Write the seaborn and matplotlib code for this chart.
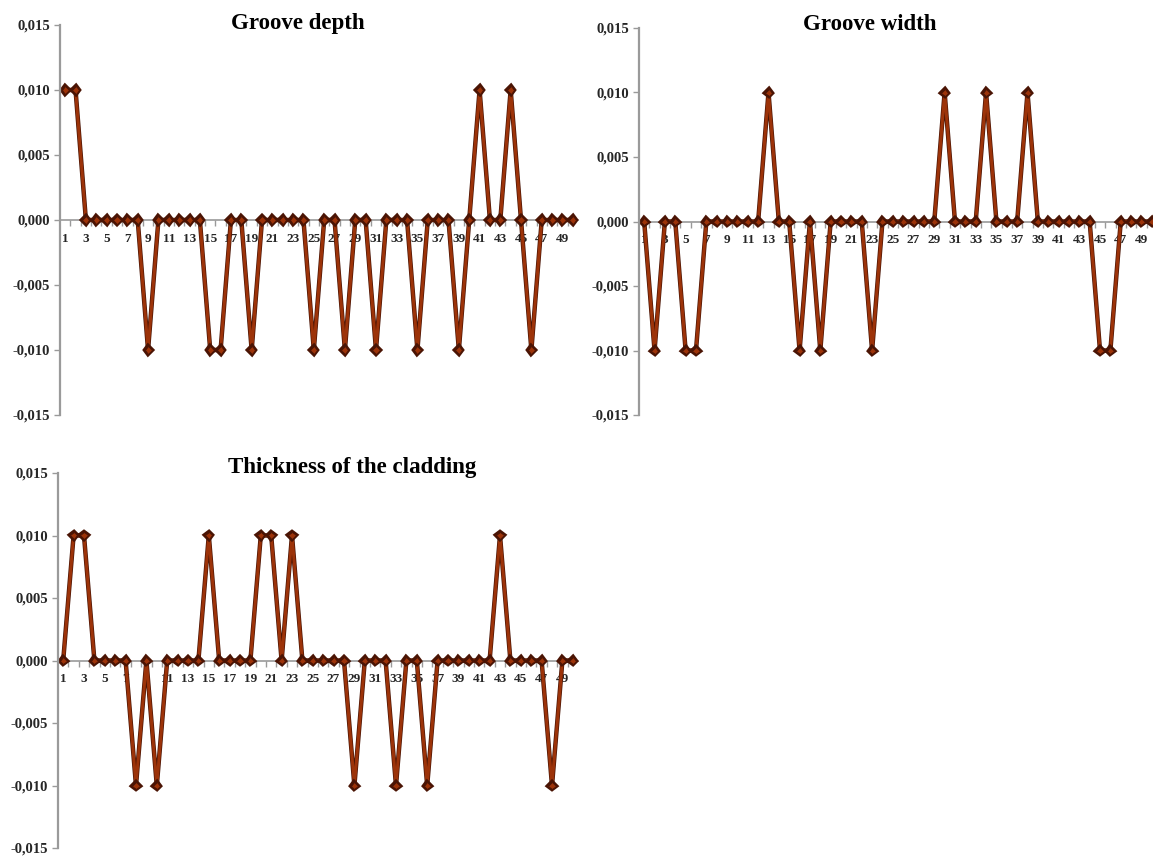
import matplotlib
matplotlib.use("Agg")
import matplotlib.pyplot as plt
import matplotlib.patheffects as pe
from matplotlib.ticker import FixedLocator, NullFormatter
import numpy as np
import pandas as pd
import seaborn as sns

# Experiment numbers 1..50
experiments = list(range(1, 51))

groove_depth = [
    0.01, 0.01, 0, 0, 0, 0, 0, 0, -0.01, 0,
    0, 0, 0, 0, -0.01, -0.01, 0, 0, -0.01, 0,
    0, 0, 0, 0, -0.01, 0, 0, -0.01, 0, 0,
    -0.01, 0, 0, 0, -0.01, 0, 0, 0, -0.01, 0,
    0.01, 0, 0, 0.01, 0, -0.01, 0, 0, 0, 0,
]

groove_width = [
    0, -0.01, 0, 0, -0.01, -0.01, 0, 0, 0, 0,
    0, 0, 0.01, 0, 0, -0.01, 0, -0.01, 0, 0,
    0, 0, -0.01, 0, 0, 0, 0, 0, 0, 0.01,
    0, 0, 0, 0.01, 0, 0, 0, 0.01, 0, 0,
    0, 0, 0, 0, -0.01, -0.01, 0, 0, 0, 0,
]

cladding_thickness = [
    0, 0.01, 0.01, 0, 0, 0, 0, -0.01, 0, -0.01,
    0, 0, 0, 0, 0.01, 0, 0, 0, 0, 0.01,
    0.01, 0, 0.01, 0, 0, 0, 0, 0, -0.01, 0,
    0, 0, -0.01, 0, 0, -0.01, 0, 0, 0, 0,
    0, 0, 0.01, 0, 0, 0, 0, -0.01, 0, 0,
]

titles = ["Groove depth", "Groove width", "Thickness of the cladding"]
y_ticks = [-0.015, -0.010, -0.005, 0.000, 0.005, 0.010, 0.015]
y_tick_labels = ["-0,015", "-0,010", "-0,005", "0,000", "0,005", "0,010", "0,015"]
x_tick_values = list(range(1, 51, 2))
x_tick_labels = [str(v) for v in x_tick_values]

sns.set_theme(style="white")
plt.rcParams["font.family"] = ["Liberation Serif", "DejaVu Serif"]
plt.rcParams["font.weight"] = "bold"

W, H = 1153, 857
fig = plt.figure(figsize=(W / 100, H / 100), dpi=100)


def px_axes(left, top, right, bottom):
    return fig.add_axes([left / W, 1 - bottom / H, (right - left) / W, (bottom - top) / H])


LINE = "#9C3309"
EDGE = "#4A1404"
AXIS = "#9A9A9A"

panels = [
    (px_axes(60, 25, 578, 415), groove_depth, titles[0], (298, 24)),
    (px_axes(639, 28, 1157, 415), groove_width, titles[1], (870, 25)),
    (px_axes(58, 473, 578, 848), cladding_thickness, titles[2], (352, 467)),
]

for ax, values, title, (tx, ty) in panels:
    df = pd.DataFrame({"experiment": experiments, "value": values})
    sns.lineplot(data=df, x="experiment", y="value", ax=ax, color=LINE,
                 linewidth=2.2, marker="D", markersize=3.6,
                 markerfacecolor=LINE, markeredgecolor=EDGE, markeredgewidth=0.6,
                 clip_on=False)
    ax.lines[-1].set_path_effects([pe.Stroke(linewidth=3.2, foreground=EDGE), pe.Normal()])

    ax.set_xlim(0.5, 50.5)
    ax.set_ylim(-0.015, 0.015)
    ax.set_xlabel("")
    ax.set_ylabel("")

    for side in ("top", "right"):
        ax.spines[side].set_visible(False)
    ax.spines["left"].set_color(AXIS)
    ax.spines["left"].set_linewidth(1.6)
    ax.spines["bottom"].set_position(("data", 0))
    ax.spines["bottom"].set_color(AXIS)
    ax.spines["bottom"].set_linewidth(1.2)
    ax.spines["bottom"].set_zorder(0)

    ax.set_yticks(y_ticks)
    ax.set_yticklabels(y_tick_labels, fontsize=10.5, fontweight="bold")
    ax.tick_params(axis="y", direction="out", length=4, width=1, color=AXIS,
                   pad=3, left=True)

    ax.set_xticks(x_tick_values)
    ax.set_xticklabels(x_tick_labels, fontsize=9.5, fontweight="bold")
    ax.xaxis.set_minor_locator(FixedLocator(np.arange(1.5, 50.5, 1.0)))
    ax.xaxis.set_minor_formatter(NullFormatter())
    ax.tick_params(axis="x", which="major", length=0, pad=9, bottom=True)
    ax.tick_params(axis="x", which="minor", direction="out", length=4, width=1,
                   color=AXIS, bottom=True)

    fig.text(tx / W, 1 - ty / H, title, ha="center", va="center",
             fontsize=16.5, fontweight="bold", color="black")

fig.savefig("out.png", dpi=100, facecolor="white")
